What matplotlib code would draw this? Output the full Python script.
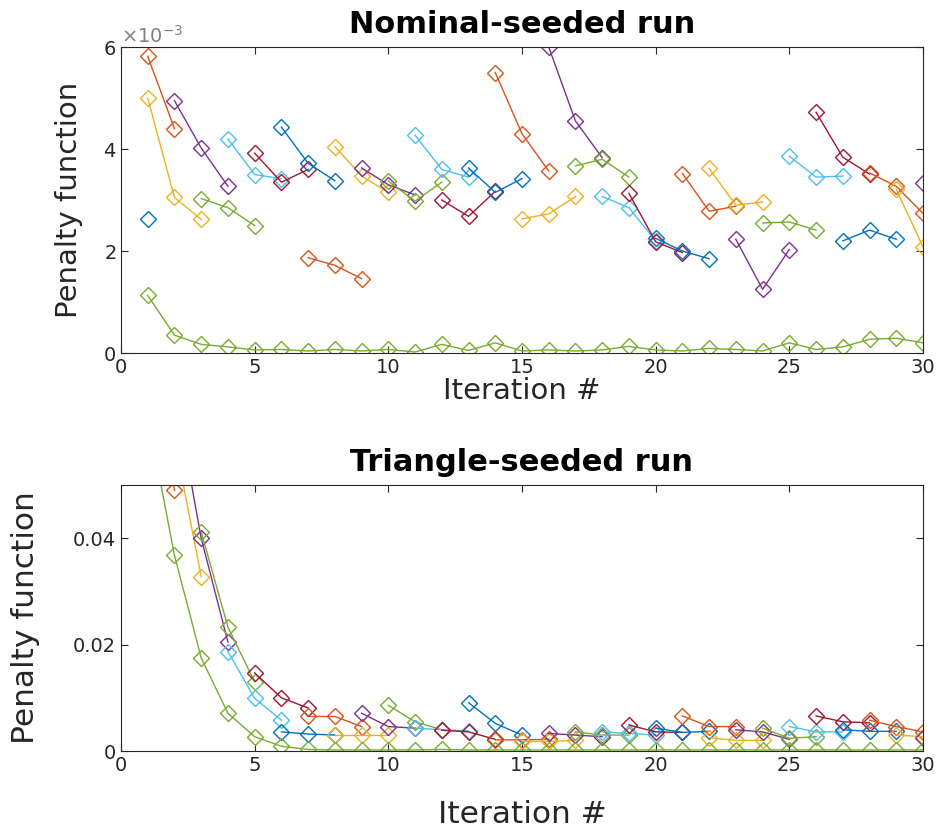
import numpy as np
import matplotlib
matplotlib.use("Agg")
import matplotlib.pyplot as plt
from matplotlib.ticker import ScalarFormatter

# MATLAB default colour order
colors = ['#0072BD', '#D95319', '#EDB120', '#7E2F8E', '#77AC30', '#4DBEEE', '#A2142F']

# Nominal-seeded run (units of 1e-3). Run k covers iterations k-2..k
nom_runs = [
    [2.62], [5.82, 4.40], [5.00, 3.05, 2.62], [4.95, 4.02, 3.27],
    [3.03, 2.85, 2.50], [4.20, 3.50, 3.42], [3.92, 3.35, 3.60], [4.43, 3.72, 3.38],
    [1.87, 1.72, 1.46], [4.05, 3.47, 3.15], [3.63, 3.30, 3.10], [3.37, 2.98, 3.35],
    [4.27, 3.60, 3.45], [3.00, 2.68, 3.17], [3.63, 3.15, 3.42], [5.50, 4.30, 3.57],
    [2.63, 2.73, 3.07], [6.00, 4.55, 3.83], [3.67, 3.80, 3.45], [3.07, 2.85, 2.20],
    [3.13, 2.18, 1.97], [2.25, 2.00, 1.85], [3.52, 2.78, 2.88], [3.62, 2.90, 2.96],
    [2.23, 1.25, 2.03], [2.55, 2.57, 2.41], [3.86, 3.45, 3.47], [4.72, 3.84, 3.51],
    [2.20, 2.41, 2.23], [3.53, 3.27, 2.74], [3.21, 2.08], [3.33],
]
nom_best = [1.13, 0.35, 0.17, 0.12, 0.06, 0.07, 0.04, 0.07, 0.04, 0.07,
            0.02, 0.17, 0.05, 0.20, 0.04, 0.06, 0.04, 0.06, 0.13, 0.06,
            0.04, 0.09, 0.07, 0.04, 0.20, 0.07, 0.12, 0.27, 0.29, 0.20]

# Triangle-seeded run
tri_runs = [
    [0.080], [0.090, 0.049], [0.100, 0.0586, 0.0328], [0.068, 0.040, 0.0205],
    [0.0412, 0.0233, 0.0130], [0.0187, 0.0099, 0.0058], [0.0147, 0.0100, 0.0081], [0.0036, 0.0032, 0.0030],
    [0.0065, 0.0065, 0.0046], [0.0030, 0.0030, 0.0030], [0.0071, 0.0046, 0.0043], [0.0086, 0.0055, 0.0040],
    [0.0043, 0.0040, 0.0038], [0.0039, 0.0036, 0.0022], [0.0091, 0.0052, 0.0030], [0.0021, 0.0021, 0.0022],
    [0.0018, 0.0018, 0.0020], [0.0033, 0.0030, 0.0027], [0.0036, 0.0030, 0.0030], [0.0036, 0.0033, 0.0030],
    [0.0049, 0.0036, 0.0035], [0.0043, 0.0035, 0.0037], [0.0066, 0.0046, 0.0046], [0.0025, 0.0020, 0.0020],
    [0.0040, 0.0036, 0.0022], [0.0043, 0.0024, 0.0027], [0.0046, 0.0036, 0.0036], [0.0066, 0.0055, 0.0053],
    [0.0040, 0.0037, 0.0037], [0.0058, 0.0046, 0.0036], [0.0030, 0.0027], [0.0024],
]
tri_best = [0.063, 0.0368, 0.0175, 0.0071, 0.0027, 0.0009, 0.0003, 0.0002, 0.0002, 0.0002,
            0.0002, 0.0003, 0.0002, 0.0002, 0.0002, 0.0002, 0.0002, 0.0002, 0.0002, 0.0002,
            0.0002, 0.0002, 0.0002, 0.0002, 0.0002, 0.0002, 0.0002, 0.0002, 0.0002, 0.0002]

plt.rcParams['font.family'] = 'DejaVu Sans'
grey = '#262626'

fig = plt.figure(figsize=(9.43, 8.33), dpi=100)
ax1 = fig.add_axes([0.1283, 0.5762, 0.8505, 0.3673])
ax2 = fig.add_axes([0.1283, 0.0984, 0.8505, 0.3193])


def draw(ax, runs, best, scale, lblsize, xpad, ypad):
    for k, vals in enumerate(runs, start=1):
        start = max(1, k - 2)
        x = np.arange(start, start + len(vals))
        ax.plot(x, np.array(vals) * scale, color=colors[(k - 1) % 7], lw=1,
                marker='D', ms=8.5, mfc='none', mew=1)
    ax.plot(np.arange(1, 31), np.array(best) * scale, color=colors[4], lw=1,
            marker='D', ms=8.5, mfc='none', mew=1)
    ax.set_xlim(0, 30)
    ax.set_xticks([0, 5, 10, 15, 20, 25, 30])
    ax.set_xlabel('Iteration #', fontsize=lblsize, color=grey, labelpad=xpad)
    ax.set_ylabel('Penalty function', fontsize=lblsize, color=grey, labelpad=ypad)
    ax.tick_params(direction='in', top=True, right=True, labelsize=14,
                   colors=grey, length=5)
    for s in ax.spines.values():
        s.set_color(grey)


draw(ax1, nom_runs, nom_best, 1e-3, 21, 0, 14)
ax1.set_ylim(0, 6e-3)
ax1.set_yticks([0, 2e-3, 4e-3, 6e-3])
fmt = ScalarFormatter(useMathText=True)
fmt.set_powerlimits((-2, 2))
ax1.yaxis.set_major_formatter(fmt)
ax1.yaxis.get_offset_text().set_fontsize(14)
ax1.yaxis.get_offset_text().set_color('#808080')
ax1.set_title('Nominal-seeded run', fontsize=22, fontweight='bold', pad=10)

draw(ax2, tri_runs, tri_best, 1.0, 22.5, 18, 24)
ax2.set_ylim(0, 0.05)
ax2.set_yticks([0, 0.02, 0.04])
ax2.set_yticklabels(['0', '0.02', '0.04'])
ax2.set_title('Triangle-seeded run', fontsize=22, fontweight='bold', pad=10)

fig.savefig('out.png', dpi=100)
